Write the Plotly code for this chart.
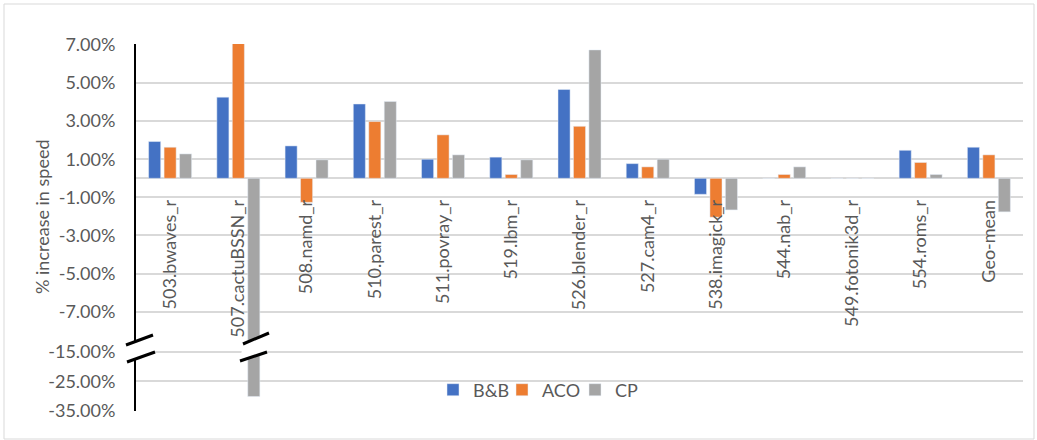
import plotly.graph_objects as go

# Speed-up of each SPEC CPU benchmark, in percent
benchmarks = ["503.bwaves_r", "507.cactuBSSN_r", "508.namd_r", "510.parest_r",
              "511.povray_r", "519.lbm_r", "526.blender_r", "527.cam4_r",
              "538.imagick_r", "544.nab_r", "549.fotonik3d_r", "554.roms_r",
              "Geo-mean"]
bnb = [1.93, 4.26, 1.70, 3.90, 1.00, 1.11, 4.66, 0.77, -0.84, 0.00, 0.00, 1.47, 1.63]
aco = [1.63, 7.10, -1.26, 2.98, 2.28, 0.20, 2.73, 0.60, -2.04, 0.20, 0.00, 0.83, 1.23]
cp = [1.28, -30.20, 0.97, 4.03, 1.23, 0.97, 6.74, 1.00, -1.66, 0.60, 0.00, 0.20, -1.76]

upper_ticks = [7, 5, 3, 1, -1, -3, -5, -7]
lower_ticks = [-15, -25, -35]

series = [("B&B", bnb, "#4472C4"), ("ACO", aco, "#ED7D31"), ("CP", cp, "#A5A5A5")]

W, H = 1037, 440
ML, MR, MT, MB = 136, 14, 44, 29
PW, PH = W - ML - MR, H - MT - MB


def px(x, y):
    """Pixel position in the page -> paper coordinates."""
    return (x - ML) / PW, (H - MB - y) / PH


upper_dom = [px(0, 345)[1], 1.0]
lower_dom = [0.0, px(0, 347)[1]]
upper_rng = [-8.75, 7.05]
lower_rng = [-35.17, -13.29]

TXT = "#595959"
GRID = "#d9d9d9"
FONT = "Lato"
FS = 18

# one legend box per series, laid out side by side
legend_names = ["legend", "legend2", "legend3"]
legend_left = [433, 502, 575]

fig = go.Figure()
for (name, vals, col), lg in zip(series, legend_names):
    fig.add_trace(go.Bar(x=benchmarks, y=vals, name=name, marker_color=col,
                         xaxis="x", yaxis="y", legendgroup=name, legend=lg))
for name, vals, col in series:
    fig.add_trace(go.Bar(x=benchmarks, y=vals, name=name, marker_color=col,
                         xaxis="x2", yaxis="y2", legendgroup=name, showlegend=False))

# category labels sit on the zero line of the upper panel
zero_pos = upper_dom[0] + (0 - upper_rng[0]) / (upper_rng[1] - upper_rng[0]) * (upper_dom[1] - upper_dom[0])


def pct(v):
    return f"{v:.2f}%"


shapes = []
# outer chart border
bx0, by0 = px(4, 439)
bx1, by1 = px(1034, 4)
shapes.append(dict(type="rect", xref="paper", yref="paper", x0=bx0, y0=by0, x1=bx1, y1=by1,
                   line=dict(color=GRID, width=1), fillcolor="rgba(0,0,0,0)", layer="below"))


def poly(points):
    return "M " + " L ".join(f"{a},{b}" for a, b in points) + " Z"


# axis break
a1, a2 = px(126, 345), px(153, 335)
a3, a4 = px(155, 352), px(127, 362)
shapes.append(dict(type="path", xref="paper", yref="paper", path=poly([a1, a2, a3, a4]),
                   fillcolor="white", line=dict(width=0)))
shapes.append(dict(type="line", xref="paper", yref="paper", x0=a1[0], y0=a1[1], x1=a2[0], y1=a2[1],
                   line=dict(color="black", width=3)))
shapes.append(dict(type="line", xref="paper", yref="paper", x0=a4[0], y0=a4[1], x1=a3[0], y1=a3[1],
                   line=dict(color="black", width=3)))

# break on the long CP bar (category index 1)
c_l1, c_r1, c_l2, c_r2 = 1.068, 1.449, 1.024, 1.420
yl1, yr1, yr2, yl2 = px(0, 344)[1], px(0, 333)[1], px(0, 352)[1], px(0, 361)[1]
shapes.append(dict(type="path", xref="x", yref="paper",
                   path=poly([(c_l1, yl1), (c_r1, yr1), (c_r2, yr2), (c_l2, yl2)]),
                   fillcolor="white", line=dict(width=0)))
shapes.append(dict(type="line", xref="x", yref="paper", x0=c_l1, y0=yl1, x1=c_r1, y1=yr1,
                   line=dict(color="black", width=3)))
shapes.append(dict(type="line", xref="x", yref="paper", x0=c_l2, y0=yl2, x1=c_r2, y1=yr2,
                   line=dict(color="black", width=3)))

tx, ty = px(42, 217)

legends = {}
for lg, left in zip(legend_names, legend_left):
    legends[lg] = dict(orientation="h", x=px(left, 0)[0], xanchor="left", y=px(0, 390)[1],
                       yanchor="middle", bgcolor="rgba(0,0,0,0)", font=dict(size=FS, color=TXT),
                       itemwidth=30)

fig.update_layout(
    width=W, height=H,
    margin=dict(l=ML, r=MR, t=MT, b=MB, pad=0),
    paper_bgcolor="white", plot_bgcolor="white",
    font=dict(family=FONT, size=FS, color=TXT),
    barmode="group", bargap=0.32, bargroupgap=0.22,
    xaxis=dict(domain=[0, 1], anchor="free", position=zero_pos, range=[-0.5, 12.5],
               showgrid=False, showline=False, zeroline=False, ticks="",
               tickangle=-90, tickfont=dict(size=FS, color=TXT), ticklabelstandoff=17),
    xaxis2=dict(domain=[0, 1], anchor="y2", matches="x", range=[-0.5, 12.5],
                showgrid=False, showline=False, zeroline=False, showticklabels=False, ticks=""),
    yaxis=dict(domain=upper_dom, anchor="x", range=upper_rng,
               tickvals=upper_ticks, ticktext=[pct(v) for v in upper_ticks],
               showgrid=True, gridcolor=GRID, gridwidth=1.5,
               zeroline=True, zerolinecolor=GRID, zerolinewidth=2,
               showline=True, linecolor="black", linewidth=2, ticks="",
               ticklabelstandoff=15, tickfont=dict(size=FS, color=TXT)),
    yaxis2=dict(domain=lower_dom, anchor="x2", range=lower_rng,
                tickvals=lower_ticks, ticktext=[pct(v) for v in lower_ticks],
                showgrid=True, gridcolor=GRID, gridwidth=1.5, zeroline=False,
                showline=True, linecolor="black", linewidth=2, ticks="",
                ticklabelstandoff=15, tickfont=dict(size=FS, color=TXT)),
    annotations=[dict(text="% increase in speed", textangle=-90, xref="paper", yref="paper",
                      x=tx, y=ty, xanchor="center", yanchor="middle", showarrow=False,
                      font=dict(size=FS, color=TXT))],
    shapes=shapes,
    **legends,
)

fig.write_html("out.html")
